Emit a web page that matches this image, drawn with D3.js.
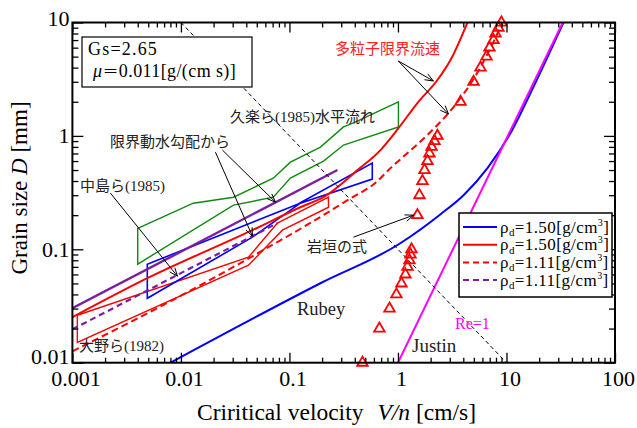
<!DOCTYPE html>
<html>
<head>
<meta charset="utf-8">
<script src="https://cdn.jsdelivr.net/npm/d3@7"></script>
<style>
  body { margin: 0; background: #fff; }
  text { font-family: "Liberation Serif", "Times New Roman", serif; }
  .jp { font-family: "Noto Sans CJK JP", sans-serif; }
</style>
</head>
<body>
<svg id="chart" width="637" height="428"></svg>
<script>
// ---- data, [V/n (cm/s), D (mm)] ----
const xMajor = [0.001, 0.01, 0.1, 1, 10, 100];
const xLabels = ["0.001", "0.01", "0.1", "1", "10", "100"];
const yMajor = [0.01, 0.1, 1, 10];
const yLabels = ["0.01", "0.1", "1", "10"];

// Rubey (blue) and Justin (magenta)
const rubey = [[0.008, 0.01], [0.193, 0.0502], [1.05, 0.113], [2.47, 0.204], [4.02, 0.30],
  [6.68, 0.52], [10.9, 1.06], [17.7, 2.70], [33.5, 10]];
const justin = [[1, 0.01], [33, 10]];
// Re = 1
const reOne = [[0.01, 10], [10, 0.01]];

// 多粒子限界流速 model curves
const redSolid = [[0.001, 0.0252], [0.0049, 0.0556], [0.0456, 0.1475], [0.126, 0.235],
  [0.206, 0.288], [0.424, 0.499], [0.69, 0.75], [1.01, 1.17], [1.51, 1.95], [2.31, 3.11],
  [3.05, 4.67], [4.37, 10]];
const redDashed = [[0.001, 0.0126], [0.0151, 0.0482], [0.0826, 0.120], [0.166, 0.177],
  [0.343, 0.271], [0.647, 0.399], [0.853, 0.52], [1.224, 0.705], [1.87, 1.02], [2.92, 1.59],
  [3.77, 2.16], [4.97, 3.17], [6.54, 5.06], [9.19, 10]];
// 限界動水勾配から
const purpleSolid = [[0.001, 0.0302], [0.277, 0.50]];
const purpleDashed = [[0.001, 0.0197], [0.0774, 0.170]];

// measured ranges (closed outlines)
const kurakuPoly = [[0.004, 0.153], [0.013, 0.255], [0.0305, 0.288], [0.071, 0.424], [0.102, 0.587],
  [0.193, 0.796], [0.315, 1.2], [0.39, 1.3], [1.01, 2.0], [1.01, 1.2], [0.315, 0.83], [0.206, 0.6],
  [0.102, 0.424], [0.071, 0.288], [0.0305, 0.245], [0.004, 0.074]];
const nakajimaPoly = [[0.0049, 0.0738], [0.119, 0.25], [0.58, 0.575], [0.58, 0.416],
  [0.126, 0.255], [0.0456, 0.128], [0.0049, 0.037]];
const ohnoPoly = [[0.00111, 0.0262], [0.0419, 0.0851], [0.0774, 0.170], [0.229, 0.288],
  [0.229, 0.235], [0.0861, 0.1475], [0.0419, 0.0724], [0.00111, 0.0151]];

// 岩垣の式 (triangles)
const iwagakiV = [0.471, 0.674, 0.836, 0.968, 1.077, 1.172, 1.224, 1.276, 1.304, 1.332,
  1.512, 1.578, 1.68, 1.755, 1.87, 1.95, 2.04, 2.17, 2.31,
  3.77, 4.97, 5.76, 6.54, 6.97, 7.59, 7.92, 8.44, 8.99];
const iwagakiD = [0.01, 0.02, 0.03, 0.04, 0.05, 0.06, 0.07, 0.08, 0.09, 0.1,
  0.2, 0.3, 0.4, 0.5, 0.6, 0.7, 0.8, 0.9, 1,
  2, 3, 4, 5, 6, 7, 8, 9, 10];

// annotation arrows [from, to]
const arrows = [
  [[1.01, 4.57], [2.12, 3.05]],
  [[1.01, 4.57], [2.92, 1.56]],
  [[0.0208, 0.719], [0.0456, 0.1305]],
  [[0.0241, 0.750], [0.0743, 0.2606]],
  [[0.00224, 0.313], [0.00929, 0.0579]],
  [[0.389, 0.128], [1.39, 0.200]]
];

const legendVals = ["1.50", "1.50", "1.11", "1.11"];
const legendColors = ["#0000ff", "#ff0000", "#ff0000", "#7b1fa2"];
const legendDash = [null, null, "6,4", "6,4"];

// ---- chart ----
const svg = d3.select("#chart");
const mLeft = 72.4, mRight = 615, mTop = 22.5, mBottom = 362.7;

const x = d3.scaleLog().domain([0.001, 100]).range([mLeft, mRight]);
const y = d3.scaleLog().domain([0.01, 10]).range([mBottom, mTop]);
const line = d3.line().x(d => x(d[0])).y(d => y(d[1]));
const smooth = d3.line().x(d => x(d[0])).y(d => y(d[1])).curve(d3.curveMonotoneX);

svg.append("rect").attr("width", 637).attr("height", 428).attr("fill", "#fff");

svg.append("clipPath").attr("id", "clip")
  .append("rect").attr("x", mLeft).attr("y", mTop)
  .attr("width", mRight - mLeft).attr("height", mBottom - mTop);

const plot = svg.append("g").attr("clip-path", "url(#clip)");

// outlines
plot.append("path").attr("d", line(kurakuPoly) + "Z")
  .attr("fill", "none").attr("stroke", "#108a10").attr("stroke-width", 1.4);
plot.append("path").attr("d", line(ohnoPoly) + "Z")
  .attr("fill", "none").attr("stroke", "#ff0000").attr("stroke-width", 1.4);
plot.append("path").attr("d", line(nakajimaPoly) + "Z")
  .attr("fill", "none").attr("stroke", "#0000ff").attr("stroke-width", 1.6);

// lines
const series = [
  { d: purpleSolid, c: "#7b1fa2", w: 2.4, dash: null, f: line },
  { d: purpleDashed, c: "#7b1fa2", w: 2.2, dash: "6,4", f: line },
  { d: redDashed, c: "#ff0000", w: 2, dash: "7,4", f: smooth },
  { d: redSolid, c: "#ff0000", w: 2, dash: null, f: smooth },
  { d: rubey, c: "#0000ff", w: 2, dash: null, f: smooth },
  { d: justin, c: "#ff00ff", w: 2, dash: null, f: line },
  { d: reOne, c: "#000", w: 1, dash: "4,3", f: line }
];
series.forEach(s => {
  plot.append("path").attr("d", s.f(s.d))
    .attr("fill", "none").attr("stroke", s.c).attr("stroke-width", s.w)
    .attr("stroke-dasharray", s.dash);
});

// triangles (not clipped, the end ones sit on the frame)
const tri = d3.symbol().type(d3.symbolTriangle).size(48);
svg.append("g").selectAll("path")
  .data(iwagakiV.map((v, i) => [v, iwagakiD[i]]))
  .enter().append("path")
  .attr("d", tri)
  .attr("transform", d => `translate(${x(d[0])},${y(d[1])})`)
  .attr("fill", "none").attr("stroke", "#ff0000").attr("stroke-width", 1.8);

// axes
function styleAxis(g) {
  g.select(".domain").remove();
  g.selectAll(".tick line").attr("stroke", "#000").attr("stroke-width", 1.3);
  g.selectAll("text").attr("fill", "#000")
    .attr("font-family", "'Liberation Serif', serif").attr("font-size", 22);
}
const xMinor = x.ticks().filter(d => !xMajor.includes(d));
const yMinor = y.ticks().filter(d => !yMajor.includes(d));

const xAxisG = svg.append("g").attr("transform", `translate(0,${mBottom})`)
  .call(d3.axisBottom(x).tickValues(xMajor).tickSize(-10).tickPadding(8)
    .tickFormat((d, i) => xLabels[i]))
  .call(styleAxis);
xAxisG.selectAll(".tick text").attr("dx", 3);
svg.append("g").attr("transform", `translate(0,${mBottom})`)
  .call(d3.axisBottom(x).tickValues(xMinor).tickSize(-5).tickFormat(""))
  .call(styleAxis);
svg.append("g").attr("transform", `translate(0,${mTop})`)
  .call(d3.axisTop(x).tickValues(xMajor).tickSize(-10).tickFormat(""))
  .call(styleAxis);
svg.append("g").attr("transform", `translate(0,${mTop})`)
  .call(d3.axisTop(x).tickValues(xMinor).tickSize(-5).tickFormat(""))
  .call(styleAxis);

const yAxisG = svg.append("g").attr("transform", `translate(${mLeft},0)`)
  .call(d3.axisLeft(y).tickValues(yMajor).tickSize(-11).tickPadding(3)
    .tickFormat((d, i) => yLabels[i]))
  .call(styleAxis);
// end labels sit a little higher, as in the original
yAxisG.selectAll(".tick text").attr("y", d => d === 0.01 ? -6 : (d === 10 ? -4 : 0));
svg.append("g").attr("transform", `translate(${mLeft},0)`)
  .call(d3.axisLeft(y).tickValues(yMinor).tickSize(-6).tickFormat(""))
  .call(styleAxis);
svg.append("g").attr("transform", `translate(${mRight},0)`)
  .call(d3.axisRight(y).tickValues(yMajor).tickSize(-11).tickFormat(""))
  .call(styleAxis);
svg.append("g").attr("transform", `translate(${mRight},0)`)
  .call(d3.axisRight(y).tickValues(yMinor).tickSize(-6).tickFormat(""))
  .call(styleAxis);

svg.append("rect").attr("x", mLeft).attr("y", mTop)
  .attr("width", mRight - mLeft).attr("height", mBottom - mTop)
  .attr("fill", "none").attr("stroke", "#000").attr("stroke-width", 2);

// axis titles
const xt = svg.append("text").attr("x", 197).attr("y", 420).attr("font-size", 23.5);
xt.append("tspan").text("Criritical velocity");
xt.append("tspan").attr("dx", 14).attr("font-style", "italic").text("V/n");
xt.append("tspan").text(" [cm/s]");

const yt = svg.append("text").attr("transform", "translate(27,188) rotate(-90)")
  .attr("text-anchor", "middle").attr("font-size", 23);
yt.append("tspan").text("Grain size ");
yt.append("tspan").attr("font-style", "italic").text("D");
yt.append("tspan").text(" [mm]");

// arrows
function drawArrow(a) {
  const x1 = x(a[0][0]), y1 = y(a[0][1]), x2 = x(a[1][0]), y2 = y(a[1][1]);
  const ang = Math.atan2(y2 - y1, x2 - x1), L = 9, h = 0.38;
  const g = svg.append("g").attr("stroke", "#000").attr("stroke-width", 1).attr("fill", "none");
  g.append("line").attr("x1", x1).attr("y1", y1).attr("x2", x2).attr("y2", y2);
  g.append("path").attr("d",
    `M${x2 - L * Math.cos(ang - h)},${y2 - L * Math.sin(ang - h)}L${x2},${y2}` +
    `L${x2 - L * Math.cos(ang + h)},${y2 - L * Math.sin(ang + h)}`);
}
arrows.forEach(drawArrow);

// labels: pieces are [text, isJapanese]
function label(px, py, parts, color, size) {
  const t = svg.append("text").attr("x", px).attr("y", py)
    .attr("font-size", size || 15).attr("fill", color || "#222");
  parts.forEach(p => t.append("tspan").attr("class", p[1] ? "jp" : null).text(p[0]));
}
label(335, 54, [["多粒子限界流速", 1]], "#ff2020");
label(230, 122, [["久楽ら", 1], ["(1985)", 0], ["水平流れ", 1]]);
label(110, 147, [["限界動水勾配から", 1]]);
label(80, 191, [["中島ら", 1], ["(1985)", 0]]);
label(79, 351, [["大野ら", 1], ["(1982)", 0]]);
label(307, 252, [["岩垣の式", 1]]);
label(297, 315, [["Rubey", 0]], "#222", 18.5);
label(412, 352, [["Justin", 0]], "#222", 19);
label(455, 329, [["Re=1", 0]], "#ff00ff", 16);

// parameter box
svg.append("rect").attr("x", 82).attr("y", 37).attr("width", 170).attr("height", 50)
  .attr("fill", "#fff").attr("stroke", "#000").attr("stroke-width", 1.2);
svg.append("text").attr("x", 88).attr("y", 55).attr("font-size", 18)
  .attr("letter-spacing", 1.2).text("Gs=2.65");
const mu = svg.append("text").attr("x", 93).attr("y", 76.5).attr("font-size", 18)
  .attr("letter-spacing", 0.4);
mu.append("tspan").attr("font-style", "italic").text("μ");
mu.append("tspan").attr("class", "jp").attr("font-size", 16).text("＝");
mu.append("tspan").text("0.011[g/(cm s)]");

// legend
const lg = svg.append("g");
lg.append("rect").attr("x", 459).attr("y", 213).attr("width", 153).attr("height", 84)
  .attr("fill", "#fff").attr("stroke", "#000").attr("stroke-width", 1.5);
legendVals.forEach((v, i) => {
  const ry = 227 + i * 17.7;
  lg.append("line").attr("x1", 463).attr("x2", 497).attr("y1", ry).attr("y2", ry)
    .attr("stroke", legendColors[i]).attr("stroke-width", 2)
    .attr("stroke-dasharray", legendDash[i]);
  const t = lg.append("text").attr("x", 500).attr("y", ry + 5.5)
    .attr("font-size", 17).attr("letter-spacing", 0.4);
  t.append("tspan").text("ρ");
  t.append("tspan").attr("font-size", 11).attr("dy", 3.5).text("d");
  t.append("tspan").attr("dy", -3.5).text("=" + v + "[g/cm");
  t.append("tspan").attr("font-size", 10).attr("dy", -7).text("3");
  t.append("tspan").attr("dy", 7).text("]");
});
</script>
</body>
</html>
